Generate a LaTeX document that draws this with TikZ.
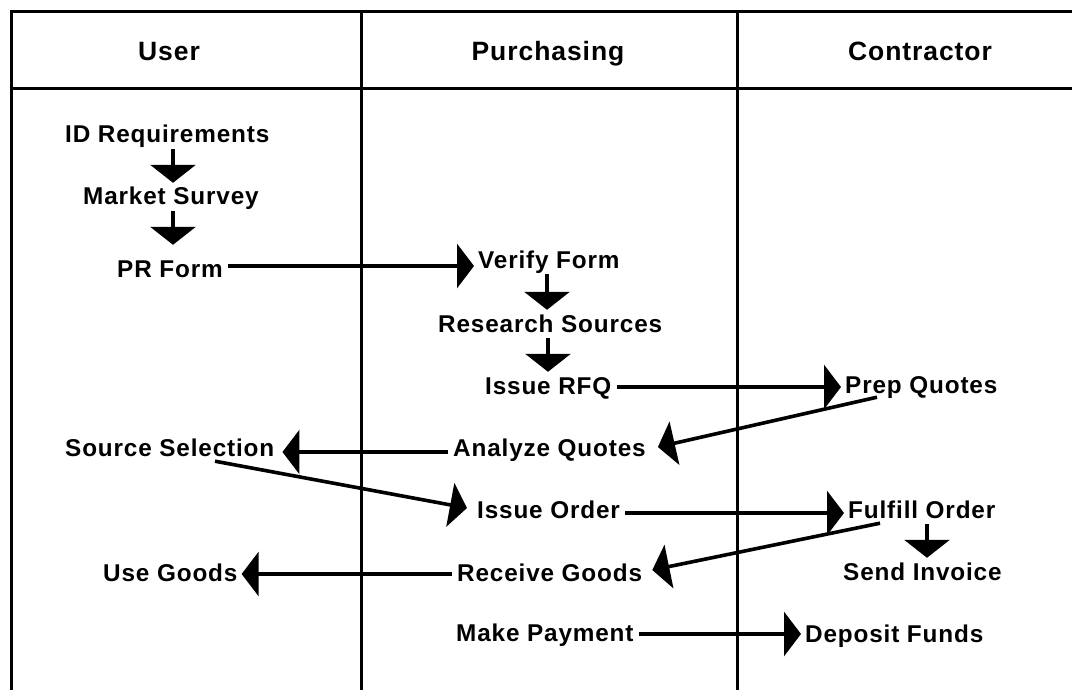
\documentclass[tikz,border=0pt]{standalone}
\usepackage{fontspec}
\setmainfont{Liberation Sans}
\newfontfamily\lblfont{Liberation Sans}[LetterSpace=3.5]
\usetikzlibrary{arrows.meta,calc}
\begin{document}
\begin{tikzpicture}[x=1pt,y=-1pt,
  task/.style={anchor=base west,inner sep=0pt,text height=17pt,text depth=3pt,font=\lblfont\bfseries\fontsize{24.3pt}{28pt}\selectfont},
  head/.style={anchor=base,inner sep=0pt,font=\lblfont\bfseries\fontsize{26.5pt}{30pt}\selectfont},
  grid/.style={line width=3pt},
  conn/.style={line width=3.6pt},
  flow/.style={conn,shorten <=5pt,shorten >=4pt,-{Triangle[length=17pt,width=44pt]}},
  down/.style={conn,shorten <=3pt,shorten >=5pt,-{Triangle[length=18pt,width=45pt]}}]
\useasboundingbox (0,0) rectangle (1072,690);
% grid
\draw[grid] (1072,12) -- (11,12) -- (11,690);
\draw[grid] (11,89) -- (1072,89);
\draw[grid] (361,12) -- (361,690);
\draw[grid] (737,12) -- (737,690);
% headers
\node[head] (hu) at (169,61) {User};
\node[head] (hp) at (548,61) {Purchasing};
\node[head] (hc) at (920,61) {Contractor};
% tasks
\node[task] (id) at (65,143) {ID Requirements};
\node[task] (ms) at (83,205) {Market Survey};
\node[task] (pr) at (117,277) {PR Form};
\node[task] (vf) at (478,268) {Verify Form};
\node[task] (rs) at (438,332) {Research Sources};
\node[task] (rfq) at (485,394) {Issue RFQ};
\node[task] (pq) at (845,393) {Prep Quotes};
\node[task] (aq) at (453,456) {Analyze Quotes};
\node[task] (ss) at (65,456) {Source Selection};
\node[task] (io) at (477,518) {Issue Order};
\node[task] (fo) at (848,518) {Fulfill Order};
\node[task] (si) at (843,580) {Send Invoice};
\node[task] (rg) at (457,581) {Receive Goods};
\node[task] (ug) at (103,581) {Use Goods};
\node[task] (mp) at (456,641) {Make Payment};
\node[task] (df) at (805,642) {Deposit Funds};
% vertical arrows
\draw[down] ([xshift=108pt]id.south west) -- ([xshift=108pt]id.south west |- ms.north);
\draw[down,shorten >=15pt] ([xshift=90pt]ms.south west) -- ([xshift=90pt]ms.south west |- pr.north);
\draw[down] ([xshift=69pt]vf.south west) -- ([xshift=69pt]vf.south west |- rs.north);
\draw[down] ([xshift=110pt]rs.south west) -- ([xshift=110pt]rs.south west |- rfq.north);
\draw[down] ([xshift=79pt]fo.south west) -- ([xshift=79pt]fo.south west |- si.north);
% horizontal arrows
\draw[flow] ([yshift=4pt]pr.east) -- ([yshift=4pt]pr.east -| vf.west);
\draw[flow] (rfq.east) -- (rfq.east -| pq.west);
\draw[flow,shorten >=8pt] ([yshift=-3pt]aq.west) -- ([yshift=-3pt]aq.west -| ss.east);
\draw[flow] ([yshift=-2pt]io.east) -- ([yshift=-2pt]io.east -| fo.west);
\draw[flow] (rg.west) -- (rg.west -| ug.east);
\draw[flow] (mp.east) -- (mp.east -| df.west);
% diagonal arrows
\draw[flow,shorten <=0pt,shorten >=0pt] ([xshift=32pt,yshift=-1pt]pq.south west) -- ([xshift=12pt,yshift=2pt]aq.east);
\draw[flow,shorten <=0pt,shorten >=0pt] ([xshift=150pt,yshift=-2pt]ss.south west) -- ([xshift=-10pt,yshift=3pt]io.west);
\draw[flow,shorten <=0pt,shorten >=0pt] ([xshift=32pt,yshift=-2pt]fo.south west) -- ([xshift=10pt,yshift=4pt]rg.east);
\end{tikzpicture}
\end{document}
